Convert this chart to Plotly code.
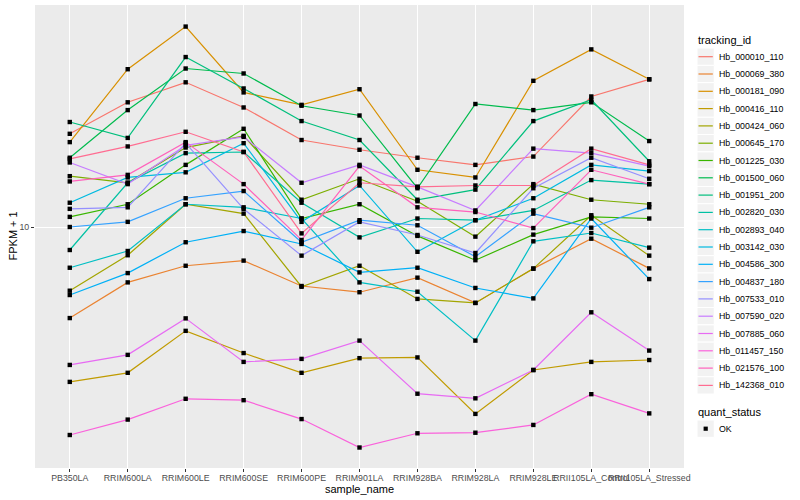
import plotly.graph_objects as go

samples = ["PB350LA", "RRIM600LA", "RRIM600LE", "RRIM600SE", "RRIM600PE", "RRIM901LA",
           "RRIM928BA", "RRIM928LA", "RRIM928LE", "RRII105LA_Control", "RRII105LA_Stressed"]

tracking_ids = ["Hb_000010_110", "Hb_000069_380", "Hb_000181_090", "Hb_000416_110", "Hb_000424_060",
                "Hb_000645_170", "Hb_001225_030", "Hb_001500_060", "Hb_001951_200", "Hb_002820_030",
                "Hb_002893_040", "Hb_003142_030", "Hb_004586_300", "Hb_004837_180", "Hb_007533_010",
                "Hb_007590_020", "Hb_007885_060", "Hb_011457_150", "Hb_021576_100", "Hb_142368_010"]

# FPKM + 1 per sample
hb_000010_110 = [17.1, 20.5, 23.0, 19.9, 16.5, 15.6, 14.9, 14.3, 15.0, 21.2, 23.4]
hb_000069_380 = [5.92, 7.27, 8.00, 8.24, 7.12, 6.87, 7.47, 6.46, 7.87, 9.35, 7.88]
hb_000181_090 = [16.3, 24.8, 31.7, 21.7, 20.2, 22.1, 13.9, 13.3, 23.2, 27.8, 23.4]
hb_000416_110 = [4.1, 4.32, 5.5, 4.84, 4.32, 4.7, 4.72, 3.41, 4.39, 4.6, 4.65]
hb_000424_060 = [6.93, 8.5, 11.4, 10.8, 7.09, 8, 6.61, 6.46, 7.87, 10.7, 8.48]
hb_000645_170 = [13.4, 12.9, 15.8, 16.9, 11.7, 13.2, 11.6, 9.46, 12.8, 11.7, 11.4]
hb_001225_030 = [10.6, 11.4, 14.3, 17.6, 10.5, 11.4, 9.5, 8.26, 9.57, 10.6, 10.5]
hb_001500_060 = [14.9, 19.6, 24.9, 24.2, 20.1, 19, 12.5, 20.3, 19.6, 20.5, 16.4]
hb_001951_200 = [18.3, 16.7, 26.6, 22.2, 18.4, 16.5, 11.7, 12.4, 18.4, 20.8, 14.6]
hb_002820_030 = [8.76, 12.9, 15.3, 15.4, 11.5, 9.42, 10.5, 10.4, 11, 13.1, 12.8]
hb_002893_040 = [7.91, 8.71, 11.4, 11.2, 10.5, 7.27, 6.89, 5.2, 9.21, 9.66, 8.88]
hb_003142_030 = [11.5, 13.3, 13.7, 16.2, 10.3, 12.7, 8.67, 10.4, 11.8, 14.3, 13.8]
hb_004586_300 = [6.76, 7.67, 9.16, 9.77, 9.07, 7.7, 7.91, 7.04, 6.63, 10.5, 7.41]
hb_004837_180 = [10, 10.3, 11.8, 12.3, 9.16, 10.4, 10.1, 8.43, 10.8, 9.96, 11.2]
hb_007533_010 = [11.1, 11.2, 16.2, 11.1, 8.48, 10.3, 9.55, 8.61, 12.5, 14.9, 13.2]
hb_007590_020 = [14.5, 12.8, 16, 16.8, 12.9, 14.3, 12.6, 11, 15.7, 15.3, 14.2]
hb_007885_060 = [4.52, 4.79, 5.91, 4.6, 4.68, 5.2, 3.83, 3.73, 4.39, 6.12, 4.91]
hb_011457_150 = [3.02, 3.3, 3.72, 3.69, 3.31, 2.81, 3.05, 3.06, 3.2, 3.82, 3.42]
hb_021576_100 = [13, 13.5, 16.3, 12.8, 9.28, 14.2, 11.2, 10.9, 9.94, 13.9, 12.8]
hb_142368_010 = [14.8, 15.9, 17.3, 15.4, 9.64, 12.9, 12.6, 12.7, 12.7, 15.7, 14.3]

series = [hb_000010_110, hb_000069_380, hb_000181_090, hb_000416_110, hb_000424_060,
          hb_000645_170, hb_001225_030, hb_001500_060, hb_001951_200, hb_002820_030,
          hb_002893_040, hb_003142_030, hb_004586_300, hb_004837_180, hb_007533_010,
          hb_007590_020, hb_007885_060, hb_011457_150, hb_021576_100, hb_142368_010]

quant_status = ["OK"]

colors = ["#F8766D", "#EA8331", "#D89000", "#C09B00", "#A3A500", "#7CAE00", "#39B600", "#00BB4E",
          "#00BF7D", "#00C1A3", "#00BFC4", "#00BAE0", "#00B0F6", "#35A2FF", "#9590FF", "#C77CFF",
          "#E76BF3", "#FA62DB", "#FF62BC", "#FF6C91"]

FONT = "Liberation Sans, Arial, sans-serif"
W, H = 800, 500
ML, MR, MT, MB = 35, 116, 5, 32
PW, PH = W - ML - MR, H - MT - MB


def px(x):
    return (x - ML) / PW


def py(y):
    return (H - MB - y) / PH


fig = go.Figure()
for name, vals, col in zip(tracking_ids, series, colors):
    fig.add_trace(go.Scatter(x=samples, y=vals, mode="lines", name=name,
                             line=dict(color=col, width=1.2), showlegend=False))

all_x = [s for vals in series for s in samples]
all_y = [v for vals in series for v in vals]
fig.add_trace(go.Scatter(x=all_x, y=all_y, mode="markers", name=quant_status[0],
                         marker=dict(symbol="square", size=4.4, color="black"), showlegend=False))

shapes = []
annotations = []

# axis titles
annotations.append(dict(x=0.5, y=py(489), xref="paper", yref="paper", text="sample_name",
                        showarrow=False, font=dict(family=FONT, size=11, color="black"),
                        xanchor="center", yanchor="middle"))
annotations.append(dict(x=px(12), y=0.5, xref="paper", yref="paper", text="FPKM + 1", textangle=-90,
                        showarrow=False, font=dict(family=FONT, size=11, color="black"),
                        xanchor="center", yanchor="middle"))

# legend: tracking_id
LX = 696
annotations.append(dict(x=px(LX), y=py(40.5), xref="paper", yref="paper", text="tracking_id",
                        showarrow=False, font=dict(family=FONT, size=11, color="black"),
                        xanchor="left", yanchor="middle"))
KEY = 17.28
for i, (name, col) in enumerate(zip(tracking_ids, colors)):
    cy = 56.7 + i * 17.3
    shapes.append(dict(type="rect", xref="paper", yref="paper", x0=px(697), x1=px(697 + KEY),
                       y0=py(cy - KEY / 2), y1=py(cy + KEY / 2), fillcolor="#F2F2F2",
                       line=dict(color="white", width=1)))
    shapes.append(dict(type="line", xref="paper", yref="paper", x0=px(698.5), x1=px(712.8),
                       y0=py(cy), y1=py(cy), line=dict(color=col, width=1.2)))
    annotations.append(dict(x=px(716.5), y=py(cy), xref="paper", yref="paper", text=name,
                            showarrow=False, font=dict(family=FONT, size=8.8, color="black"),
                            xanchor="left", yanchor="middle"))

# legend: quant_status
annotations.append(dict(x=px(LX), y=py(412.3), xref="paper", yref="paper", text="quant_status",
                        showarrow=False, font=dict(family=FONT, size=11, color="black"),
                        xanchor="left", yanchor="middle"))
cy = 428.7
shapes.append(dict(type="rect", xref="paper", yref="paper", x0=px(697), x1=px(697 + KEY),
                   y0=py(cy - KEY / 2), y1=py(cy + KEY / 2), fillcolor="#F2F2F2",
                   line=dict(color="white", width=1)))
shapes.append(dict(type="rect", xref="paper", yref="paper", x0=px(703.6), x1=px(707.8),
                   y0=py(cy + 2.1), y1=py(cy - 2.1), fillcolor="black", line=dict(width=0)))
annotations.append(dict(x=px(716.5), y=py(cy), xref="paper", yref="paper", text=quant_status[0],
                        showarrow=False, font=dict(family=FONT, size=8.8, color="black"),
                        xanchor="left", yanchor="middle"))

fig.update_layout(
    width=W, height=H,
    margin=dict(l=ML, r=MR, t=MT, b=MB, pad=0),
    paper_bgcolor="white", plot_bgcolor="#EBEBEB",
    font=dict(family=FONT, size=9, color="#4D4D4D"),
    showlegend=False,
    shapes=shapes, annotations=annotations,
    xaxis=dict(type="category", categoryorder="array", categoryarray=samples,
               range=[-0.6, len(samples) - 0.4], showgrid=True, gridcolor="white", gridwidth=1.4,
               zeroline=False, showline=False, ticks="outside", ticklen=3, tickcolor="#333333",
               tickwidth=1, tickangle=0, ticklabelstandoff=-2,
               tickfont=dict(family=FONT, size=8.8, color="#4D4D4D"), automargin=False),
    yaxis=dict(type="log", range=[0.3975, 1.555], tickvals=[10], ticktext=["10"],
               showgrid=True, gridcolor="white", gridwidth=1.4, zeroline=False, showline=False,
               ticks="outside", ticklen=3, tickcolor="#333333", tickwidth=1,
               tickfont=dict(family=FONT, size=8.8, color="#4D4D4D"), automargin=False),
)

fig.write_html("out.html", config={"displayModeBar": False},
               post_script="document.body.style.margin='0';document.body.style.padding='0';"
                           "document.body.style.overflow='hidden';")
